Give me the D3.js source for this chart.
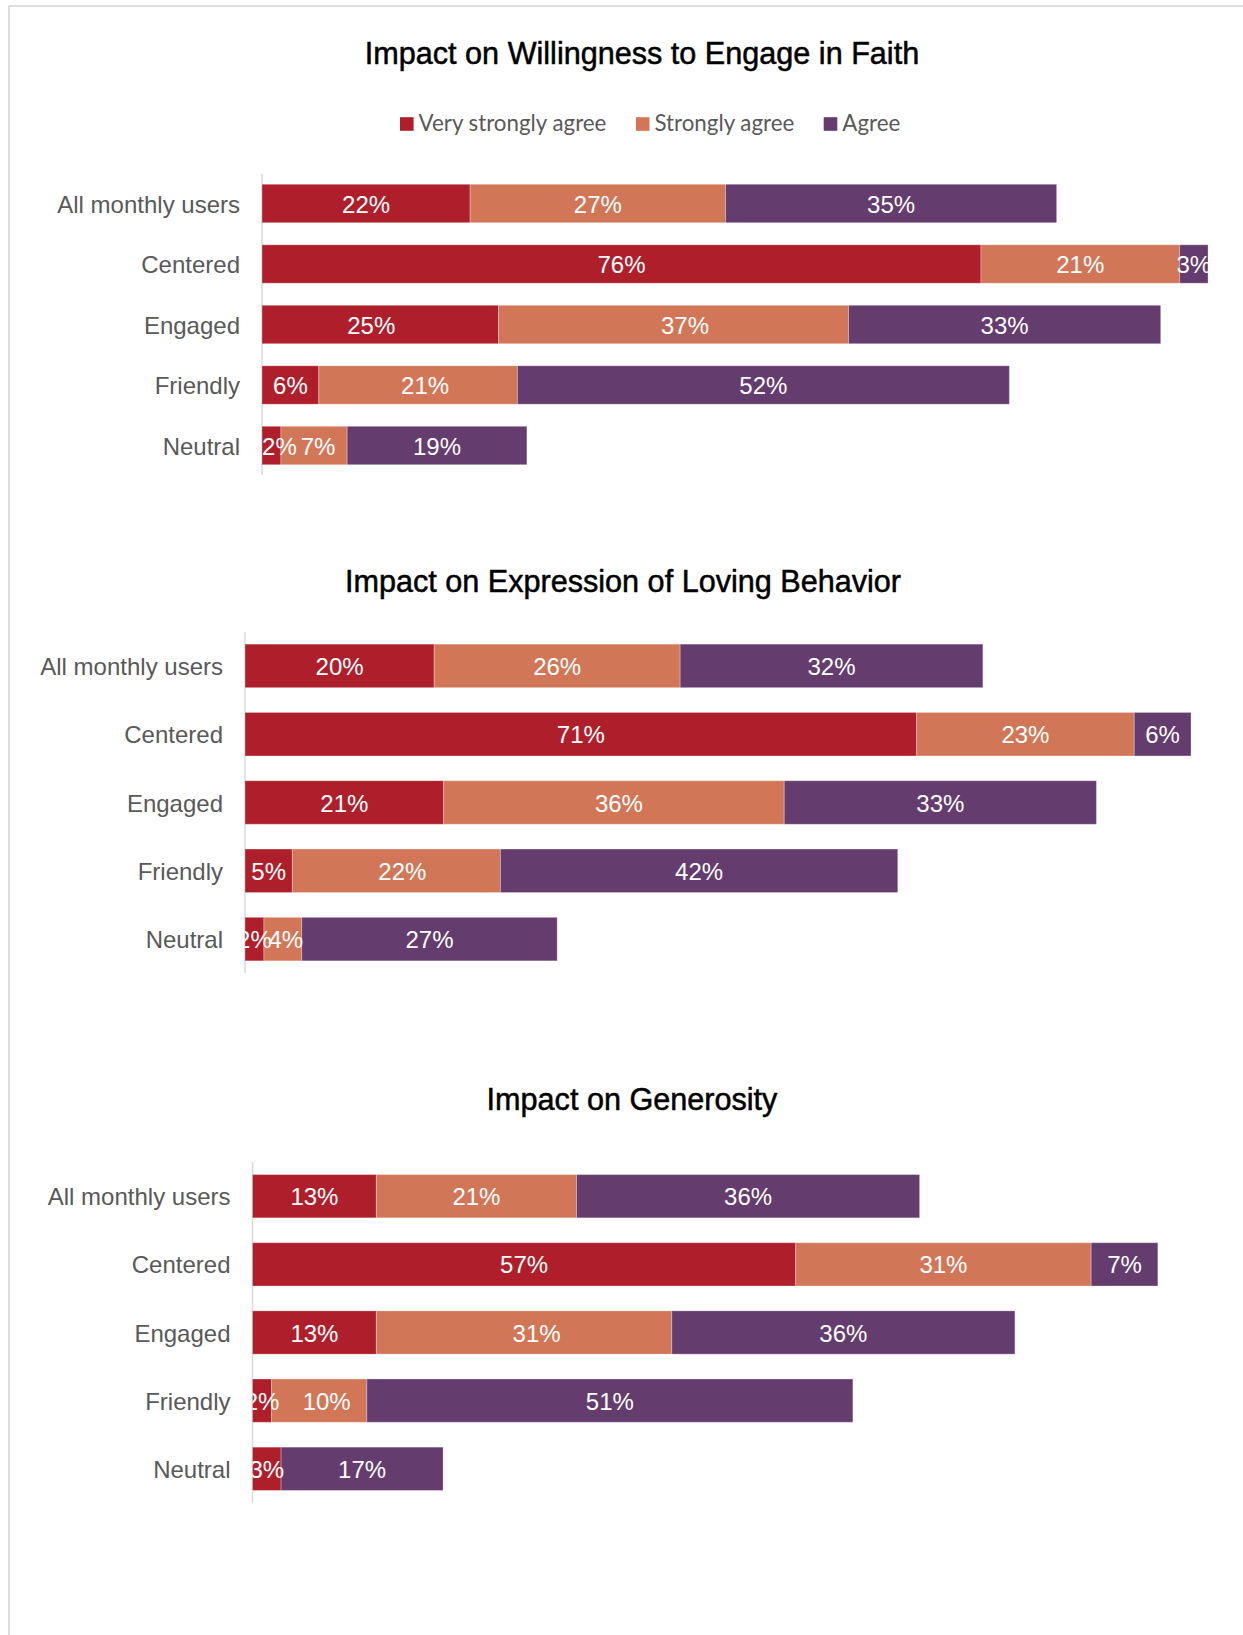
<!DOCTYPE html>
<html>
<head>
<meta charset="utf-8">
<script src="https://cdn.jsdelivr.net/npm/d3@7"></script>
<style>
  html, body { margin: 0; padding: 0; background: #ffffff; }
  svg { display: block; }
</style>
</head>
<body>
<svg id="chart" width="1243" height="1635"></svg>
<script>
// Respondent segments (rows of every panel)
const categories = ["All monthly users", "Centered", "Engaged", "Friendly", "Neutral"];

// Agreement levels (stack order, left to right)
const seriesNames = ["Very strongly agree", "Strongly agree", "Agree"];
const seriesColors = ["#AF1F2B", "#D17757", "#643C6E"];

// Panel 1: willingness to engage in faith (%)
const faithVeryStrongly = [22, 76, 25, 6, 2];
const faithStrongly     = [27, 21, 37, 21, 7];
const faithAgree        = [35, 3, 33, 52, 19];

// Panel 2: expression of loving behavior (%)
const lovingVeryStrongly = [20, 71, 21, 5, 2];
const lovingStrongly     = [26, 23, 36, 22, 4];
const lovingAgree        = [32, 6, 33, 42, 27];

// Panel 3: generosity (%)
const generosityVeryStrongly = [13, 57, 13, 2, 3];
const generosityStrongly     = [21, 31, 31, 10, 0];
const generosityAgree        = [36, 7, 36, 51, 17];

const panelTitles = [
  "Impact on Willingness to Engage in Faith",
  "Impact on Expression of Loving Behavior",
  "Impact on Generosity"
];

const panelSeries = [
  [faithVeryStrongly, faithStrongly, faithAgree],
  [lovingVeryStrongly, lovingStrongly, lovingAgree],
  [generosityVeryStrongly, generosityStrongly, generosityAgree]
];

// Page layout of each panel
const panelLayout = [
  { titleX: 642, titleY: 64,   x0: 262,   width: 946, top: 174,    bottom: 475,    padInner: 0.365, padOuter: 0.17,  legend: true },
  { titleX: 623, titleY: 592,  x0: 245,   width: 946, top: 632,    bottom: 973,    padInner: 0.363, padOuter: 0.178, legend: false },
  { titleX: 632, titleY: 1110, x0: 252.5, width: 953, top: 1162.3, bottom: 1502.7, padInner: 0.365, padOuter: 0.18,  legend: false }
];

// Hand-placed label nudges (px), keyed "panel|category|series"
const labelNudges = {
  "0|Engaged|0": -9,  "0|Engaged|1": 11.5, "0|Friendly|1": 7, "0|Neutral|0": 8, "0|Neutral|1": 4,
  "1|Engaged|1": 5,   "1|Friendly|1": 6,   "1|Neutral|1": 3,
  "2|Engaged|1": 12.5, "2|Friendly|1": 7.5
};

const svg = d3.select("#chart");

// Page frame
svg.append("path")
  .attr("d", "M9,1635 V6 H1243")
  .attr("fill", "none")
  .attr("stroke", "#d3d3d3")
  .attr("stroke-width", 1.5);

const defs = svg.append("defs");

panelLayout.forEach((L, pi) => {
  const g = svg.append("g").attr("class", "panel");

  // Title
  g.append("text")
    .attr("x", L.titleX)
    .attr("y", L.titleY)
    .attr("text-anchor", "middle")
    .attr("font-family", "'Liberation Sans', Arial, sans-serif")
    .attr("font-size", 30.6)
    .attr("fill", "#000")
    .attr("stroke", "#000")
    .attr("stroke-width", 0.5)
    .text(panelTitles[pi]);

  // Legend (first panel only)
  if (L.legend) {
    const lg = g.append("g").attr("class", "legend");
    let lx = 400;
    seriesNames.forEach((name, i) => {
      lg.append("rect")
        .attr("x", lx).attr("y", 117.2)
        .attr("width", 13.6).attr("height", 13.6)
        .attr("fill", seriesColors[i]);
      const t = lg.append("text")
        .attr("x", lx + 18.6)
        .attr("y", 131)
        .attr("font-family", "Lato, 'Open Sans', sans-serif")
        .attr("font-size", 22.3)
        .attr("fill", "#595959")
        .text(name);
      lx = lx + 18.6 + t.node().getComputedTextLength() + 29.5;
    });
  }

  const x = d3.scaleLinear().domain([0, 100]).range([L.x0, L.x0 + L.width]);
  const y = d3.scaleBand()
    .domain(categories)
    .range([L.top, L.bottom])
    .paddingInner(L.padInner)
    .paddingOuter(L.padOuter);

  // Stack the three agreement levels per segment
  const rows = categories.map((c, ci) => {
    const r = { category: c };
    seriesNames.forEach((s, si) => { r[s] = panelSeries[pi][si][ci]; });
    return r;
  });
  const stacked = d3.stack().keys(seriesNames)(rows);

  // Category axis (labels only, thin light domain line)
  const yAxis = d3.axisLeft(y).tickSize(0).tickPadding(22);
  const ax = g.append("g")
    .attr("transform", `translate(${L.x0},0)`)
    .call(yAxis);
  ax.select(".domain")
    .attr("d", `M0,${L.top}V${L.bottom}`)
    .attr("stroke", "#d9d9d9")
    .attr("stroke-width", 1.5);
  ax.selectAll(".tick text")
    .attr("font-family", "'Liberation Sans', Arial, sans-serif")
    .attr("font-size", 24)
    .attr("fill", "#595959")
    .attr("dy", "0.38em");

  // Bars
  const barsG = g.append("g");
  stacked.forEach((layer, si) => {
    barsG.selectAll(null)
      .data(layer.filter(d => d[1] - d[0] > 0))
      .join("rect")
      .attr("x", d => x(d[0]))
      .attr("y", d => y(d.data.category))
      .attr("width", d => x(d[1]) - x(d[0]))
      .attr("height", y.bandwidth())
      .attr("fill", seriesColors[si])
      .attr("stroke", "rgba(255,255,255,0.28)")
      .attr("stroke-width", 1);
  });

  // Value labels, clipped to the plot area
  const clipId = "plotClip" + pi;
  defs.append("clipPath").attr("id", clipId)
    .append("rect")
    .attr("x", x(0)).attr("y", L.top)
    .attr("width", x(100) - x(0)).attr("height", L.bottom - L.top);

  const labelsG = g.append("g").attr("clip-path", `url(#${clipId})`);
  stacked.forEach((layer, si) => {
    labelsG.selectAll(null)
      .data(layer.filter(d => d[1] - d[0] > 0))
      .join("text")
      .attr("x", d => (x(d[0]) + x(d[1])) / 2 + (labelNudges[`${pi}|${d.data.category}|${si}`] || 0))
      .attr("y", d => y(d.data.category) + y.bandwidth() / 2)
      .attr("dy", "0.38em")
      .attr("text-anchor", "middle")
      .attr("font-family", "'Liberation Sans', Arial, sans-serif")
      .attr("font-size", 24)
      .attr("fill", "#ffffff")
      .text(d => (d[1] - d[0]) + "%");
  });
});
</script>
</body>
</html>
